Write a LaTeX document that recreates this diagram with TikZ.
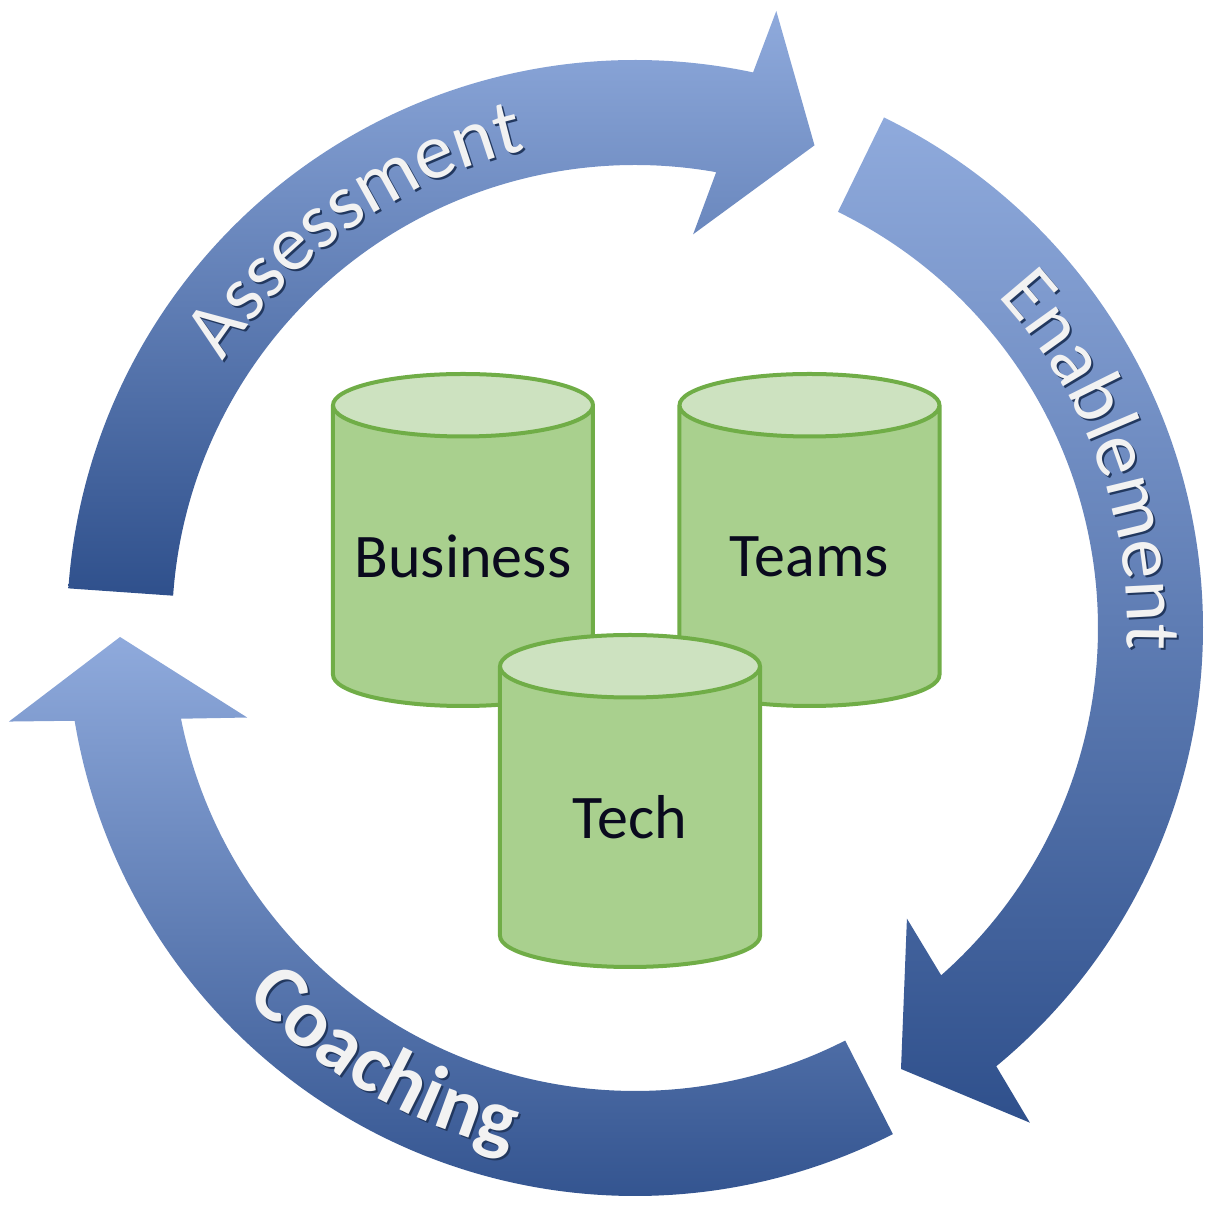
\documentclass[tikz,border=0pt]{standalone}
\usepackage{fontspec}
\newfontfamily\calib{Carlito}
\usetikzlibrary{shapes.geometric,decorations.text,positioning}

\definecolor{bandlight}{HTML}{8FAADC}
\definecolor{bandmid}{HTML}{4E7AC8}
\definecolor{banddark}{HTML}{2F508C}
\definecolor{labelwhite}{HTML}{F2F2F2}
\definecolor{labelshade}{HTML}{22385F}
\definecolor{cylbody}{HTML}{A9D08E}
\definecolor{cyltop}{HTML}{CDE2C0}
\definecolor{cylline}{HTML}{70AD47}
\definecolor{cyltext}{HTML}{0A0A1E}

\tikzset{
  band/.style={top color=bandlight, middle color=bandmid, bottom color=banddark},
  store/.style={cylinder, shape border rotate=90, aspect=0.25, draw=cylline,
    line width=4pt, cylinder uses custom fill, cylinder body fill=cylbody,
    cylinder end fill=cyltop, minimum width=260pt, minimum height=332pt,
    text width=250pt, align=center, inner sep=0pt, text=cyltext,
    font=\calib\fontsize{62}{70}\selectfont},
  ringtext/.style 2 args={decorate, decoration={text along path,
    text align=center, text color=#1, text={#2}}},
}

% one ring segment: tail angle, tip angle
\newcommand{\cyclearrow}[2]{%
  \path[band] (#1:568) arc[start angle=#1, end angle=#2+8.4, radius=568]
    -- ({#2+7.5}:633) -- (#2:515) -- ({#2+12}:398) -- ({#2+10.3}:463)
    arc[start angle=#2+10.3, end angle=#1, radius=463] -- cycle;}
\newcommand{\ringfont}{\calib\fontsize{79}{90}\selectfont}
\newcommand{\ringboldfont}{\calib\bfseries\fontsize{82}{92}\selectfont}

\begin{document}
\begin{tikzpicture}[x=1pt,y=1pt,node distance=346pt,on grid]
\useasboundingbox (-635,-578) rectangle (581,628);

% arrows
\cyclearrow{176}{69.6}
\cyclearrow{64}{-58.9}
\cyclearrow{-63}{-179}

% labels on the ring
\path[ringtext={labelshade}{|\ringfont|Assessment}, shift={(2,-2)}]
  (175:490) arc[start angle=175, end angle=75, radius=490];
\path[ringtext={labelwhite}{|\ringfont|Assessment}]
  (175:490) arc[start angle=175, end angle=75, radius=490];
\path[ringtext={labelshade}{|\ringfont|Enablement}, shift={(2,-2)}]
  (70:492) arc[start angle=70, end angle=-30, radius=492];
\path[ringtext={labelwhite}{|\ringfont|Enablement}]
  (70:492) arc[start angle=70, end angle=-30, radius=492];
\path[ringtext={labelshade}{|\ringboldfont|Coaching}, shift={(2,-2)}]
  (190:536) arc[start angle=190, end angle=290, radius=536];
\path[ringtext={labelwhite}{|\ringboldfont|Coaching}]
  (190:536) arc[start angle=190, end angle=290, radius=536];

% the three stores
\node[store, anchor=south] (db_business) at (-172,-80) {Business};
\node[store, anchor=south] (db_teams) at (174.5,-80) {Teams};
\node[store, anchor=south] (db_tech) at (-5,-341) {Tech};
\end{tikzpicture}
\end{document}
